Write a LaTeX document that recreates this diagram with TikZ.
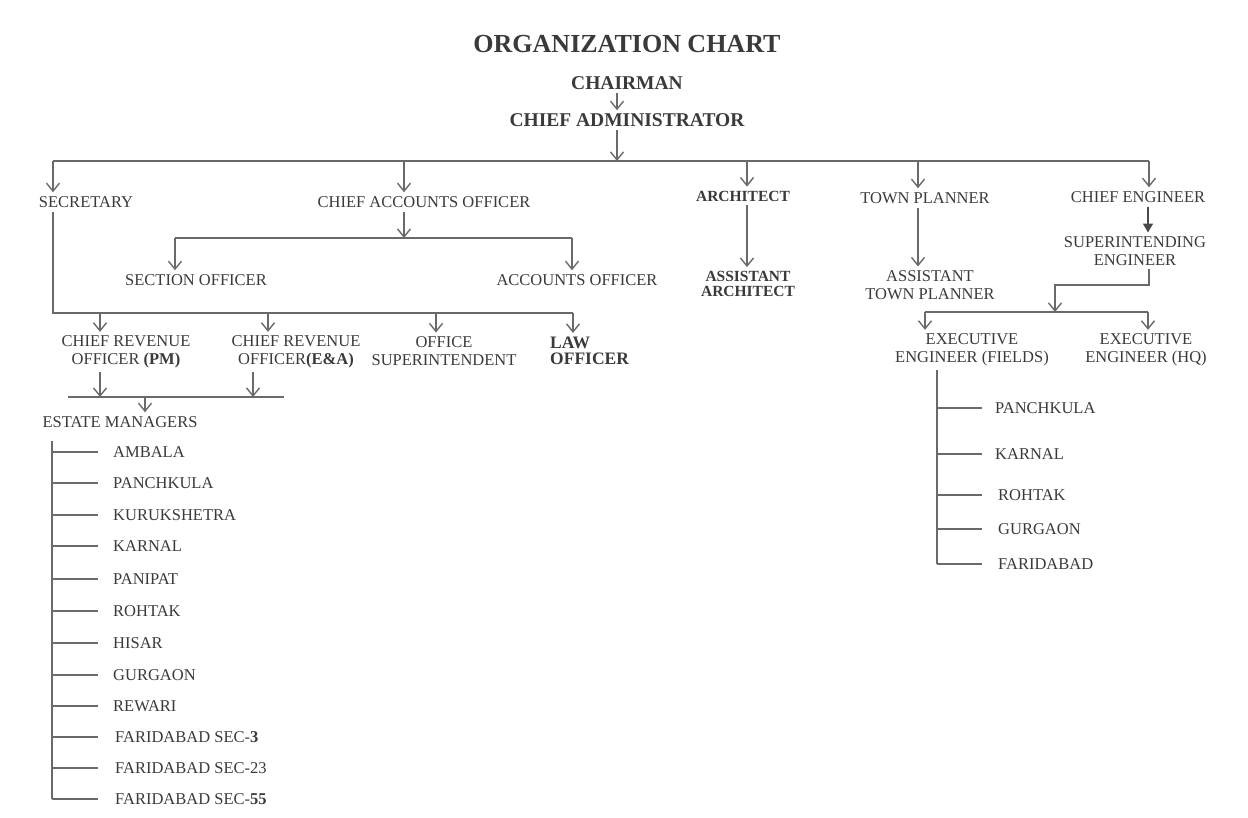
\documentclass[tikz,border=0pt]{standalone}
\usepackage{fontspec}
\setmainfont{Liberation Serif}
\usetikzlibrary{arrows.meta}
\definecolor{txt}{HTML}{3A3A3A}
\definecolor{lnc}{HTML}{6A6A6A}
\begin{document}
\begin{tikzpicture}[x=1pt,y=-1pt,
  lab/.style={font=\fontsize{16.5}{17.5}\selectfont, text=txt, inner sep=4pt, align=center},
  labb/.style={font=\fontsize{15.5}{15}\selectfont\bfseries, text=txt, inner sep=4pt, align=center},
  hd/.style={font=\fontsize{19.5}{21}\selectfont\bfseries, text=txt, inner sep=3pt},
  ttl/.style={font=\fontsize{26}{28}\selectfont\bfseries, text=txt, inner sep=3pt},
  item/.style={font=\fontsize{16.5}{17.5}\selectfont, text=txt, inner sep=4pt, anchor=west},
  ln/.style={draw=lnc, line width=1.6pt},
  arr/.style={ln, -{Straight Barb[length=8pt,width=13pt,line width=1.4pt]}},
  cearr/.style={ln, -{Triangle[length=9pt,width=10pt]}, draw=lnc!70!black, fill=lnc!70!black}
]
\useasboundingbox[fill=white] (0,0) rectangle (1248,817);

% ---------- nodes ----------
\node[ttl] (title) at (627,44) {ORGANIZATION CHART};
\node[hd] (chair) at (627,83) {CHAIRMAN};
\node[hd] (ca) at (627,120) {CHIEF ADMINISTRATOR};

\node[lab] (sec) at (86,202) {SECRETARY};
\node[lab] (cao) at (424,202) {CHIEF ACCOUNTS OFFICER};
\node[labb] (arch) at (743,196) {ARCHITECT};
\node[lab] (tp) at (925,198) {TOWN PLANNER};
\node[lab] (ce) at (1138,197) {CHIEF ENGINEER};

\node[lab] (secoff) at (196,280) {SECTION OFFICER};
\node[lab] (accoff) at (577,280) {ACCOUNTS OFFICER};
\node[labb] (aarch) at (748,284) {ASSISTANT\\ARCHITECT};
\node[lab] (atp) at (930,285) {ASSISTANT\\TOWN PLANNER};
\node[lab] (se) at (1135,251) {SUPERINTENDING\\ENGINEER};

\node[lab] (cro1) at (126,352) {CHIEF REVENUE\\OFFICER \textbf{(PM)}};
\node[lab] (cro2) at (296,352) {CHIEF REVENUE\\OFFICER\textbf{(E\&A)}};
\node[lab] (os) at (444,351) {OFFICE\\SUPERINTENDENT};
\node[labb, font=\fontsize{17.5}{16}\selectfont\bfseries, align=left, anchor=west] (law) at (546,351) {LAW\\OFFICER};
\node[lab] (em) at (120,422) {ESTATE MANAGERS};

\node[lab] (eef) at (972,350) {EXECUTIVE\\ENGINEER (FIELDS)};
\node[lab] (eehq) at (1146,350) {EXECUTIVE\\ENGINEER (HQ)};

% estate managers list
\node[item] (lp1) at (109,452) {AMBALA};
\node[item] (lp2) at (109,483) {PANCHKULA};
\node[item] (lp3) at (109,515) {KURUKSHETRA};
\node[item] (lp4) at (109,546) {KARNAL};
\node[item] (lp5) at (109,579) {PANIPAT};
\node[item] (lp6) at (109,611) {ROHTAK};
\node[item] (lp7) at (109,643) {HISAR};
\node[item] (lp8) at (109,675) {GURGAON};
\node[item] (lp9) at (109,706) {REWARI};
\node[item] (lp10) at (111,737) {FARIDABAD SEC-\textbf{3}};
\node[item] (lp11) at (111,768) {FARIDABAD SEC-23};
\node[item] (lp12) at (111,799) {FARIDABAD SEC-\textbf{55}};

% executive engineer (fields) list
\node[item] (rp1) at (991,408) {PANCHKULA};
\node[item] (rp2) at (991,454) {KARNAL};
\node[item] (rp3) at (994,495) {ROHTAK};
\node[item] (rp4) at (994,529) {GURGAON};
\node[item] (rp5) at (994,564) {FARIDABAD};

% ---------- connectors ----------
\draw[arr] ([xshift=-10]chair.south) -- ([xshift=-10]ca.north);

\coordinate (busL) at (53,161);
\coordinate (busR) at (1149,161);
\draw[ln] (busL) -- (busR);
\draw[arr] ([xshift=-10]ca.south) -- ([xshift=-10]ca.south |- busL);
\draw[arr] (busL) -- (busL |- sec.north);
\draw[arr] ([xshift=-20]cao.north |- busL) -- ([xshift=-20]cao.north);
\draw[arr] ([xshift=4]arch.north |- busL) -- ([xshift=4]arch.north);
\draw[arr] ([xshift=-7]tp.north |- busL) -- ([xshift=-7]tp.north);
\draw[arr] (busR) -- (busR |- ce.north);

% chief accounts officer
\coordinate (cbL) at (175,238);
\coordinate (cbR) at (572,238);
\draw[ln] (cbL) -- (cbR);
\draw[arr] ([xshift=-20]cao.south) -- ([xshift=-20]cao.south |- cbL);
\draw[arr] (cbL) -- (cbL |- secoff.north);
\draw[arr] (cbR) -- (cbR |- accoff.north);

% architect, town planner, chief engineer
\draw[arr] ([xshift=4]arch.south) -- ([xshift=4]arch.south |- aarch.north);
\draw[arr] ([xshift=-7]tp.south) -- ([xshift=-7]tp.south |- atp.north);
\draw[cearr] ([xshift=10]ce.south) -- ([xshift=10]ce.south |- se.north);

% superintending engineer -> executive engineers
\coordinate (sej) at (1055,285);
\coordinate (ebL) at (925,312);
\coordinate (ebR) at (1148,312);
\draw[arr] ([xshift=14]se.south) |- (sej) -- (sej |- ebL);
\draw[ln] (ebL) -- (ebR);
\draw[arr] (ebL) -- (ebL |- eef.north);
\draw[arr] (ebR) -- (ebR |- eehq.north);

\coordinate (rtb) at (937,564);
\draw[ln] ([xshift=-35]eef.south) -- (rtb);
\foreach \n in {rp1,rp2,rp3,rp4,rp5}
  \draw[ln] (rtb |- \n.west) -- ++(45,0);

% secretary subtree
\coordinate (lb) at (53,313);
\coordinate (lbR) at (573,313);
\draw[ln] ([xshift=-33]sec.south) -- (lb) -- (lbR);
\draw[arr] ([xshift=-26]cro1.north |- lb) -- ([xshift=-26]cro1.north);
\draw[arr] ([xshift=-28]cro2.north |- lb) -- ([xshift=-28]cro2.north);
\draw[arr] ([xshift=-8]os.north |- lb) -- ([xshift=-8]os.north);
\draw[arr] (lbR) -- (lbR |- law.north);

% chief revenue officers -> estate managers
\coordinate (mbL) at (68,397);
\coordinate (mbR) at (284,397);
\draw[ln] (mbL) -- (mbR);
\draw[arr] ([xshift=-26]cro1.south) -- ([xshift=-26]cro1.south |- mbL);
\draw[arr] ([xshift=-43]cro2.south) -- ([xshift=-43]cro2.south |- mbL);
\draw[arr] ([xshift=25]em.north |- mbL) -- ([xshift=25]em.north);

\coordinate (ltb) at (52,799);
\draw[ln, shorten <=9pt] ([xshift=-68]em.south) -- (ltb);
\foreach \n in {lp1,lp2,lp3,lp4,lp5,lp6,lp7,lp8,lp9,lp10,lp11,lp12}
  \draw[ln] (ltb |- \n.west) -- ++(46,0);
\end{tikzpicture}
\end{document}
